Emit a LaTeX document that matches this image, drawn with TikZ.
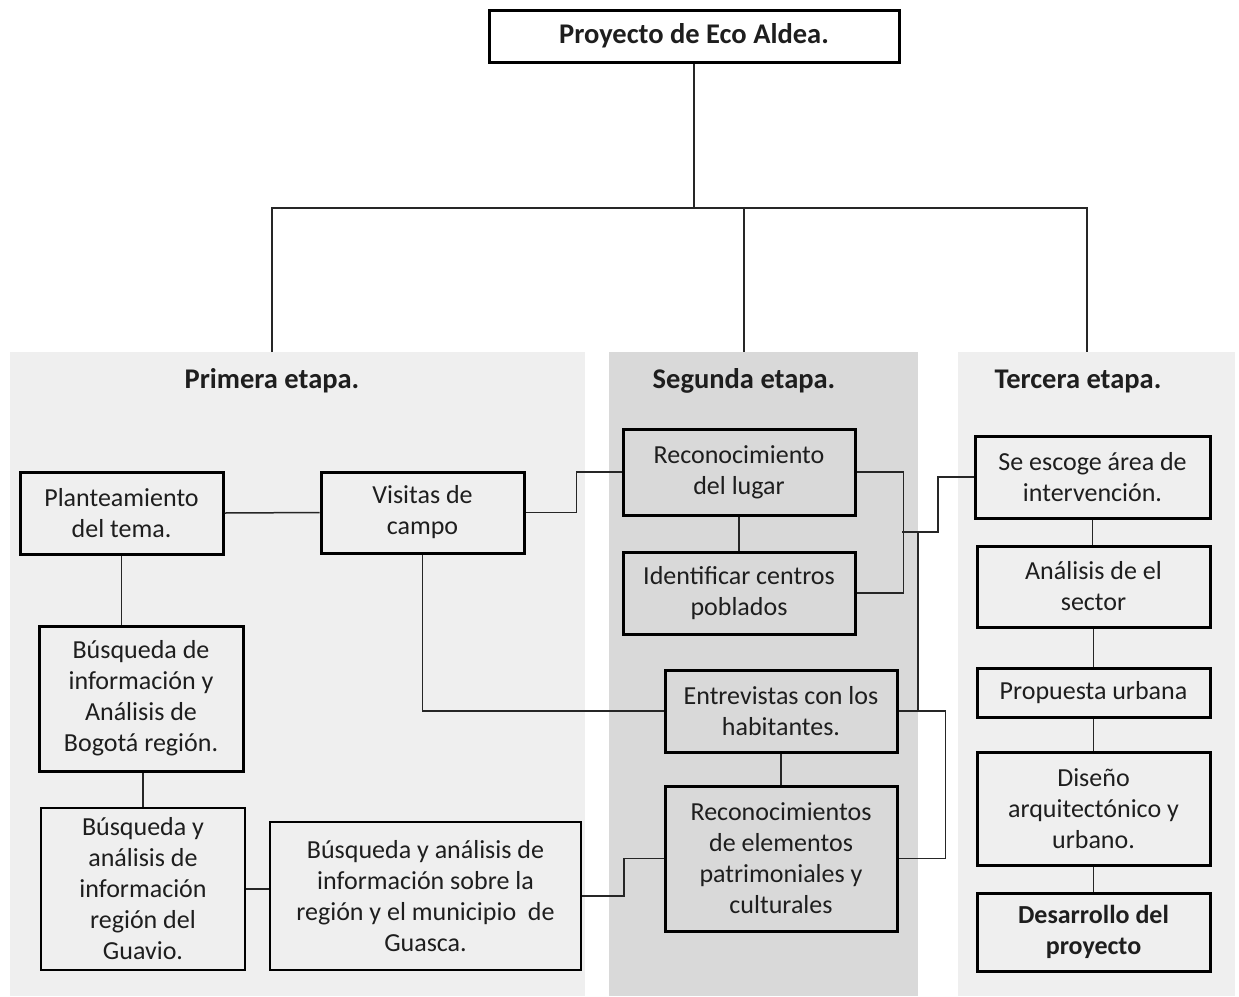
\documentclass[tikz,border=0pt]{standalone}
\usepackage{fontspec}
\setmainfont{Carlito}
\definecolor{panelclaro}{RGB}{239,239,239}
\definecolor{paneloscuro}{RGB}{217,217,217}
\definecolor{texto}{RGB}{30,30,30}
\tikzset{
	caja/.style={draw,line width=3pt,align=center,inner sep=2pt,text=texto,font=\fontsize{26}{31}\selectfont},
	cajafina/.style={caja,line width=2pt},
	etapa/.style={text=texto,font=\bfseries\fontsize{28.5}{31}\selectfont},
	enlace/.style={line width=1.5pt,draw=black!85}
}
\begin{document}
\begin{tikzpicture}[x=1pt,y=-1pt]
	\useasboundingbox (0,0) rectangle (1239,996);
	\fill[panelclaro] (10,352) rectangle (585,996);
	\fill[paneloscuro] (609,352) rectangle (918,996);
	\fill[panelclaro] (958,352) rectangle (1235,996);
	\node[caja,minimum width=410pt,minimum height=52pt,font=\bfseries\fontsize{28.5}{31}\selectfont] (proyecto) at (694,36) {Proyecto de Eco Aldea.};
	\node[etapa] (et1) at (272,381) {Primera etapa.};
	\node[etapa] (et2) at (744,381) {Segunda etapa.};
	\node[etapa] (et3) at (1078,381) {Tercera etapa.};
	\coordinate (bus) at (694,208);
	\coordinate (top1) at (272,352);
	\coordinate (top2) at (744,352);
	\coordinate (top3) at (1087,352);
	\draw[enlace] (proyecto.south) -- (bus);
	\draw[enlace] (top1) |- (bus) -| (top3);
	\draw[enlace] (bus -| top2) -- (top2);
	% primera etapa
	\node[caja,minimum width=203pt,minimum height=82pt] (plant) at (121.5,513) {Planteamiento\\del tema.};
	\node[caja,minimum width=203pt,minimum height=81pt] (visitas) at (422.5,512.5) {Visitas de\\campo};
	\node[caja,minimum width=204pt,minimum height=145pt] (bogota) at (141,698.5) {Búsqueda de\\información y\\Análisis de\\Bogotá región.};
	\node[cajafina,minimum width=204pt,minimum height=162pt] (guavio) at (143,889) {Búsqueda y\\análisis de\\información\\región del\\Guavio.};
	\node[cajafina,minimum width=311pt,minimum height=148pt] (guasca) at (425.5,896) {Búsqueda y análisis de\\información sobre la\\región y el municipio \ de\\Guasca.};
	% segunda etapa
	\node[caja,minimum width=232pt,minimum height=86pt] (lugar) at (739,472) {Reconocimiento\\del lugar};
	\node[caja,minimum width=232pt,minimum height=82pt] (centros) at (739,593) {Identificar centros\\poblados};
	\node[caja,minimum width=232pt,minimum height=82pt] (entrev) at (781,711) {Entrevistas con los\\habitantes.};
	\node[caja,minimum width=232pt,minimum height=145pt] (patrim) at (781,858.5) {Reconocimientos\\de elementos\\patrimoniales y\\culturales};
	% tercera etapa
	\node[caja,minimum width=235pt,minimum height=82pt] (area) at (1092.5,477) {Se escoge área de\\intervención.};
	\node[caja,minimum width=233pt,minimum height=81pt] (sector) at (1093.5,586.5) {Análisis de el\\sector};
	\node[caja,minimum width=233pt,minimum height=49pt] (urbana) at (1093.5,692.5) {Propuesta urbana};
	\node[caja,minimum width=233pt,minimum height=113pt] (diseno) at (1093.5,808.5) {Diseño\\arquitectónico y\\urbano.};
	\node[caja,minimum width=233pt,minimum height=78pt,font=\bfseries\fontsize{26}{31}\selectfont] (desarrollo) at (1093.5,932) {Desarrollo del\\proyecto};
	% enlaces
	\draw[enlace] (plant.east) -- (visitas.west);
	\draw[enlace] (plant.south) -- (plant.south |- bogota.north);
	\draw[enlace] (guavio.north) -- (guavio.north |- bogota.south);
	\draw[enlace] (guavio.east) -- (guavio.east -| guasca.west);
	\draw[enlace] (visitas.east) -- ++(51,0) |- (lugar.west);
	\draw[enlace] (visitas.south) |- (entrev.west);
	\draw[enlace] (guasca.east) -- ++(42,0) |- (patrim.west);
	\draw[enlace] (lugar.south) -- (centros.north);
	\draw[enlace] (entrev.south) -- (patrim.north);
	\draw[enlace] (lugar.east) -- ++(47,0) |- (centros.east);
	\coordinate (nudo) at (902,532);
	\draw[enlace] (nudo) -- ++(36,0) |- (area.west);
	\draw[enlace] (nudo -| 918,0) -- (918,711);
	\draw[enlace] (entrev.east) -- ++(47,0) |- (patrim.east);
	\draw[enlace] (area.south) -- (area.south |- sector.north);
	\draw[enlace] (sector.south) -- (urbana.north);
	\draw[enlace] (urbana.south) -- (diseno.north);
	\draw[enlace] (diseno.south) -- (desarrollo.north);
\end{tikzpicture}
\end{document}
